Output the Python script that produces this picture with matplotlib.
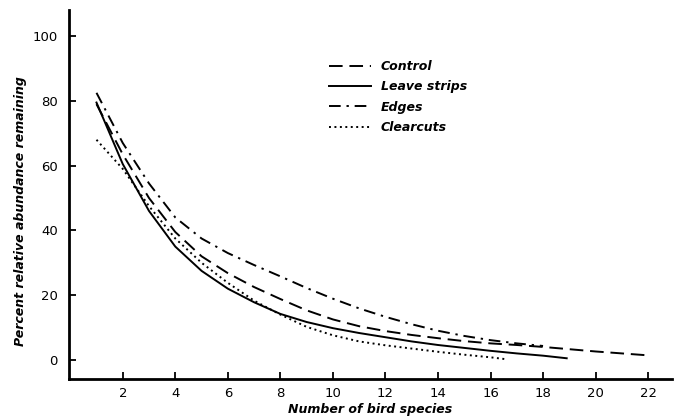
import matplotlib
matplotlib.use("Agg")
import matplotlib.pyplot as plt

# values (number of bird species -> percent remaining)
control_x = [1, 2, 3, 4, 5, 6, 7, 8, 9, 10, 11, 12, 13, 14, 15, 16, 17, 18, 19, 20, 21, 22]
control_y = [79, 63.5, 50, 39.5, 32, 26.8, 22.5, 18.8, 15.3, 12.5, 10.4, 8.9, 7.7, 6.7, 5.8, 5.1, 4.6, 4.0, 3.3, 2.6, 2.0, 1.4]

leave_x = [1, 2, 3, 4, 5, 6, 7, 8, 9, 10, 11, 12, 13, 14, 15, 16, 17, 18, 18.9]
leave_y = [79.5, 60.5, 46, 35, 27.5, 22, 17.8, 14.2, 11.7, 9.8, 8.3, 7, 5.7, 4.6, 3.7, 2.8, 2.0, 1.3, 0.5]

edges_x = [1, 2, 3, 4, 5, 6, 7, 8, 9, 10, 11, 12, 13, 14, 15, 16, 17, 18]
edges_y = [82.5, 67, 54.5, 44, 37.5, 33, 29.3, 25.8, 22.2, 18.9, 15.9, 13.3, 11, 9, 7.4, 6.1, 5.1, 4.3]

clear_x = [1, 2, 3, 4, 5, 6, 7, 8, 9, 10, 11, 12, 13, 14, 15, 16, 16.6]
clear_y = [68, 59, 47.5, 37.5, 30, 23.8, 18.3, 14, 10.2, 7.6, 5.7, 4.5, 3.5, 2.5, 1.6, 0.8, 0.2]

xticks = [2, 4, 6, 8, 10, 12, 14, 16, 18, 20, 22]
yticks = [0, 20, 40, 60, 80, 100]

fig = plt.figure(figsize=(6.89, 4.19), dpi=100)
ax = fig.add_axes([0.100, 0.0955, 0.875, 0.88])

lw = 1.4
ax.plot(control_x, control_y, color="black", lw=lw, dashes=(7, 3.5), label="Control")
ax.plot(leave_x, leave_y, color="black", lw=lw, label="Leave strips")
ax.plot(edges_x, edges_y, color="black", lw=lw, dashes=(6, 3, 1.2, 3), label="Edges")
ax.plot(clear_x, clear_y, color="black", lw=lw, dashes=(1, 1.8), label="Clearcuts")

ax.set_xlim(-0.05, 22.9)
ax.set_ylim(-5.9, 108)
ax.set_xticks(xticks)
ax.set_yticks(yticks)

for s in ["top", "right"]:
    ax.spines[s].set_visible(False)
for s in ["left", "bottom"]:
    ax.spines[s].set_linewidth(2)

ax.tick_params(direction="in", length=5, width=1.3, labelsize=9.5, pad=6)
ax.tick_params(axis="y", pad=8)

lab = dict(fontsize=9, fontweight="bold", fontstyle="italic")
ax.set_xlabel("Number of bird species", **lab)
ax.xaxis.set_label_coords(0.5, -0.065)
ax.set_ylabel("Percent relative abundance remaining", **lab)
ax.yaxis.set_label_coords(-0.07, 0.455)

leg = ax.legend(loc="upper left", bbox_to_anchor=(0.412, 0.895), frameon=False,
                handlelength=3.4, labelspacing=0.58, handletextpad=0.8,
                prop=dict(size=9, weight="bold", style="italic"))

fig.savefig("out.png", dpi=100)
